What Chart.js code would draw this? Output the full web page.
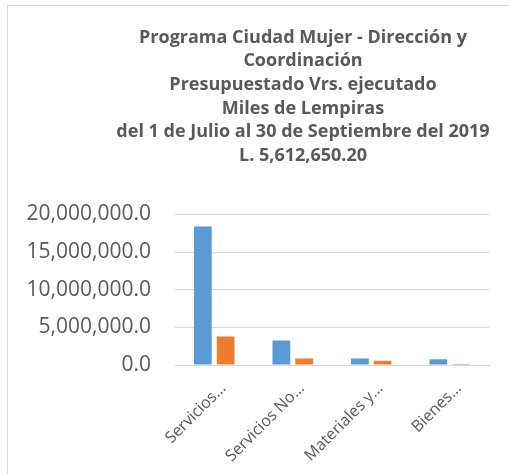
<!DOCTYPE html>
<html>
<head>
<meta charset="utf-8">
<script src="https://cdn.jsdelivr.net/npm/chart.js@4"></script>
<style>
  html, body { margin: 0; padding: 0; background: #fff; overflow: hidden; }
  #marco {
    position: absolute; left: 7px; top: 5px;
    width: 590px; height: 469px;
    border-left: 1px solid #d9d9d9; border-top: 1px solid #d9d9d9;
  }
</style>
</head>
<body>
<div id="marco"><canvas id="grafico" width="590" height="469"></canvas></div>
<script>
// categorías (como se ven en el gráfico)
const categorias = ['Servicios…', 'Servicios No…', 'Materiales y…', 'Bienes…'];
// valores
const presupuestado = [18400000, 3250000, 850000, 750000];
const ejecutado = [3780000, 850000, 550000, 120000];
const titulo = [
  'Programa Ciudad Mujer - Dirección y',
  'Coordinación',
  'Presupuestado Vrs. ejecutado',
  'Miles de Lempiras',
  'del 1 de Julio al 30 de Septiembre del 2019',
  'L. 5,612,650.20'
];

const gris = '#595959';
const lineaGris = '#d9d9d9';

document.addEventListener('DOMContentLoaded', function() {
  let ctx = document.getElementById('grafico').getContext('2d');
  let grafico = new Chart(ctx, {
    type: 'bar',
    data: {
      labels: categorias,
      datasets: [{
        label: 'Presupuestado',
        data: presupuestado,
        backgroundColor: '#5B9BD5'
      },
      {
        label: 'Ejecutado',
        data: ejecutado,
        backgroundColor: '#ED7D31'
      }]
    },
    options: {
      responsive: false,
      animation: false,
      datasets: {
        bar: { categoryPercentage: 0.58, barPercentage: 0.78 }
      },
      plugins: {
        legend: { display: false },
        tooltip: { enabled: false },
        title: {
          display: true,
          text: titulo,
          color: gris,
          font: { family: 'Open Sans', size: 18, weight: 'bold', lineHeight: 1.31 },
          padding: { top: 20, bottom: 47 }
        }
      },
      scales: {
        x: {
          grid: { display: false },
          border: { display: true, color: lineaGris, width: 1 },
          ticks: {
            color: gris,
            font: { family: 'Open Sans', size: 16 },
            minRotation: 45,
            maxRotation: 45,
            autoSkip: false,
            labelOffset: 9,
            padding: 6
          },
          afterFit: function(scale) { scale.height = 110; }
        },
        y: {
          min: 0,
          max: 20000000,
          border: { display: false },
          grid: { color: lineaGris, lineWidth: 1, drawTicks: false },
          ticks: {
            stepSize: 5000000,
            color: gris,
            padding: 24,
            font: { family: 'Open Sans', size: 21 },
            callback: function(v) {
              return v.toLocaleString('en-US', { minimumFractionDigits: 1, maximumFractionDigits: 1 });
            }
          },
          afterFit: function(scale) { scale.width = 167; }
        },
        // eje vacío a la derecha para dejar el espacio del marco
        y2: {
          position: 'right',
          display: true,
          grid: { display: false },
          border: { display: false },
          ticks: { display: false },
          afterFit: function(scale) { scale.width = 109; }
        }
      }
    }
  });
});
</script>
</body>
</html>
